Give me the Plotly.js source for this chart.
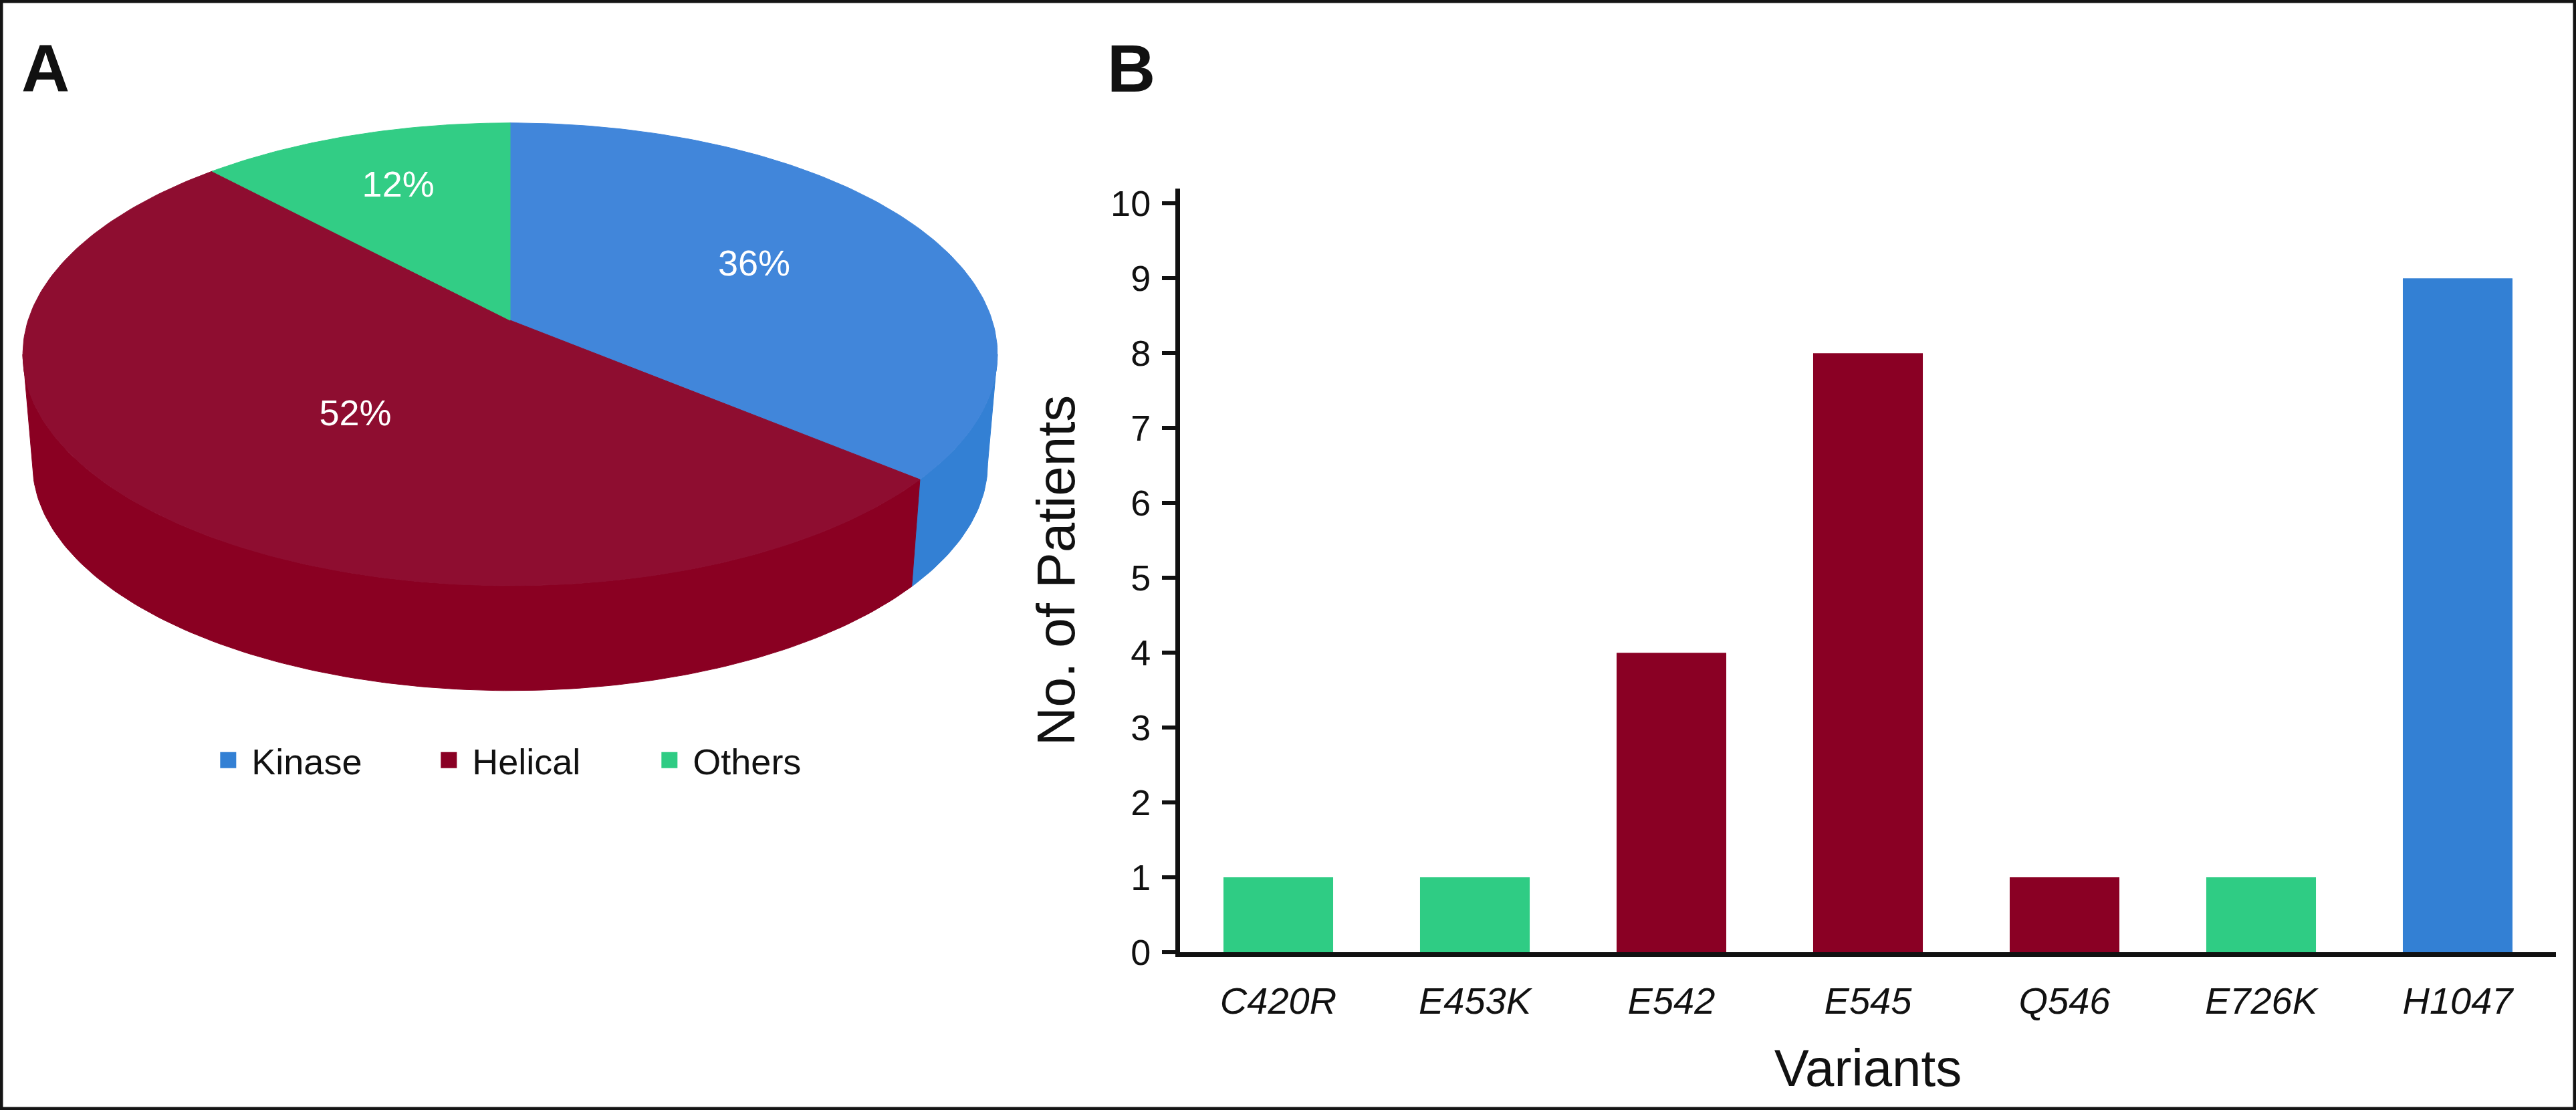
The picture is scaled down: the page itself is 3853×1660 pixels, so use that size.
<!DOCTYPE html>
<html>
<head>
<meta charset="utf-8">
<script src="https://cdn.plot.ly/plotly-3.0.1.min.js"></script>
<style>
  html, body { margin: 0; padding: 0; background: #ffffff; }
  #chart { width: 3853px; height: 1660px; }
</style>
</head>
<body>
<div id="chart"></div>
<script>
// ---------------- data ----------------
const pieLabels = ['Kinase', 'Helical', 'Others'];
const pieShares = [36, 52, 12];                 // percent
const variants = ['C420R', 'E453K', 'E542', 'E545', 'Q546', 'E726K', 'H1047'];
const patients = [1, 1, 4, 8, 1, 1, 9];
const variantDomain = ['Others', 'Others', 'Helical', 'Helical', 'Helical', 'Others', 'Kinase'];
const yTicks = [0, 1, 2, 3, 4, 5, 6, 7, 8, 9, 10];

// ---------------- styles ----------------
const FONT = 'Liberation Sans, Arial, Helvetica, sans-serif';
const topColors  = { Kinase: '#4186DA', Helical: '#8E0D30', Others: '#32CD85' };
const sideColors = { Kinase: '#3380D4', Helical: '#8A0022', Others: '#2BB875' };
const barColors  = { Kinase: '#3380D4', Helical: '#8A0024', Others: '#2FCC84' };
const labelRadius = [0.58, 0.5, 0.69];

// perspective 3D pie geometry (unit circle seen at a tilt)
const K = 0.147;        // perspective factor
const DEPTH = 0.487;    // wall height in y-units
const BOT = 0.98;       // bottom rim shrink
function proj(phiDeg, r, bottom) {
  const p = phiDeg * Math.PI / 180;
  const u = r * Math.sin(p), v = r * Math.cos(p);
  const d = 1 + K * v;
  let X = u / d, Y = v / d;
  if (bottom) { X *= BOT; Y = Y * BOT - DEPTH; }
  return [X, Y];
}
function arc(a0, a1, r, bottom) {
  const pts = [];
  const n = Math.max(2, Math.ceil(Math.abs(a1 - a0)));
  for (let i = 0; i <= n; i++) pts.push(proj(a0 + (a1 - a0) * i / n, r, bottom));
  return pts;
}

const total = pieShares.reduce((a, b) => a + b, 0);
const starts = [], ends = [];
let acc = 0;
pieShares.forEach(v => { starts.push(acc / total * 360); acc += v; ends.push(acc / total * 360); });

const phiR = Math.acos(-K) * 180 / Math.PI;  // right silhouette
const phiL = 360 - phiR;                     // left silhouette

const traces = [];
// side walls
pieLabels.forEach((lab, i) => {
  const a = Math.max(starts[i], phiR), b = Math.min(ends[i], phiL);
  if (b <= a) return;
  const topPts = arc(a, b, 1, false);
  const botPts = arc(b, a, 1, true);
  const pts = topPts.concat(botPts);
  pts.push(topPts[0]);
  traces.push({
    type: 'scatter', mode: 'lines', xaxis: 'x2', yaxis: 'y2',
    x: pts.map(p => p[0]), y: pts.map(p => p[1]),
    fill: 'toself', fillcolor: sideColors[lab],
    line: { color: sideColors[lab], width: 1 },
    showlegend: false, hoverinfo: 'skip'
  });
});
// top faces
pieLabels.forEach((lab, i) => {
  const pts = [[0, 0]].concat(arc(starts[i], ends[i], 1, false));
  pts.push([0, 0]);
  traces.push({
    type: 'scatter', mode: 'lines', xaxis: 'x2', yaxis: 'y2',
    x: pts.map(p => p[0]), y: pts.map(p => p[1]),
    fill: 'toself', fillcolor: topColors[lab],
    line: { color: topColors[lab], width: 1 },
    showlegend: false, hoverinfo: 'skip'
  });
});
// percentage labels
const lblPts = pieLabels.map((lab, i) => proj((starts[i] + ends[i]) / 2 - (i === 1 ? 6 : 0), labelRadius[i], false));
traces.push({
  type: 'scatter', mode: 'text', xaxis: 'x2', yaxis: 'y2',
  x: lblPts.map(p => p[0]), y: lblPts.map(p => p[1]),
  text: pieShares.map(v => Math.round(v / total * 100) + '%'),
  textposition: 'middle center',
  textfont: { family: FONT, size: 54, color: '#ffffff' },
  showlegend: false, hoverinfo: 'skip'
});

// bars, one trace per domain (also gives the legend)
pieLabels.forEach(lab => {
  const xs = [], ys = [];
  variants.forEach((v, i) => { if (variantDomain[i] === lab) { xs.push(v); ys.push(patients[i]); } });
  traces.push({
    type: 'bar', x: xs, y: ys, name: lab, width: 0.558,
    marker: { color: barColors[lab], line: { width: 0 } },
    xaxis: 'x', yaxis: 'y', hoverinfo: 'x+y'
  });
});

const W = 3853, H = 1660;
const layout = {
  width: W, height: H,
  margin: { l: 0, r: 0, t: 0, b: 0, pad: 0 },
  paper_bgcolor: '#ffffff', plot_bgcolor: 'rgba(0,0,0,0)',
  font: { family: FONT, color: '#111111' },
  barmode: 'overlay',
  showlegend: true,
  legend: {
    orientation: 'h', x: 0.0795, xanchor: 'left', y: 0.315, yanchor: 'middle',
    font: { family: FONT, size: 54, color: '#111111' },
    entrywidth: 255, entrywidthmode: 'pixels', itemwidth: 60,
    bgcolor: 'rgba(0,0,0,0)', traceorder: 'normal'
  },
  xaxis: {
    domain: [1765 / W, 3823 / W],
    range: [-0.5, 6.5], type: 'category',
    categoryorder: 'array', categoryarray: variants,
    showline: true, linecolor: '#111111', linewidth: 7,
    ticks: '', showgrid: false, zeroline: false,
    tickfont: { family: FONT, size: 56, color: '#111111', style: 'italic' },
    ticklabelstandoff: 18,
    title: { text: 'Variants', font: { family: FONT, size: 78, color: '#111111' }, standoff: 45 },
    fixedrange: true, automargin: false
  },
  yaxis: {
    domain: [1 - 1424 / H, 1 - 282 / H],
    range: [0, 10.2],
    tickvals: yTicks, ticktext: yTicks.map(String),
    showline: true, linecolor: '#111111', linewidth: 7,
    ticks: 'outside', ticklen: 20, tickwidth: 6, tickcolor: '#111111',
    showgrid: false, zeroline: false,
    tickfont: { family: FONT, size: 54, color: '#111111' },
    ticklabelstandoff: 6,
    title: { text: 'No. of Patients', font: { family: FONT, size: 80, color: '#111111' }, standoff: 30 },
    fixedrange: true, automargin: false
  },
  xaxis2: {
    domain: [6 / W, 1520 / W], range: [-1.05, 1.05],
    visible: false, fixedrange: true, anchor: 'y2'
  },
  yaxis2: {
    domain: [1 - 1071.4 / H, 1 - 157.4 / H], range: [-1.75, 0.95],
    visible: false, fixedrange: true, anchor: 'x2'
  },
  annotations: [
    { text: '<b>A</b>', xref: 'paper', yref: 'paper', x: 30 / W, y: 1 - 102 / H,
      xanchor: 'left', yanchor: 'middle', showarrow: false,
      font: { family: FONT, size: 100, color: '#111111' } },
    { text: '<b>B</b>', xref: 'paper', yref: 'paper', x: 1654 / W, y: 1 - 102 / H,
      xanchor: 'left', yanchor: 'middle', showarrow: false,
      font: { family: FONT, size: 100, color: '#111111' } }
  ],
  shapes: [
    { type: 'rect', xref: 'paper', yref: 'paper', x0: 0, x1: 1, y0: 0, y1: 1,
      line: { color: '#141414', width: 9 }, fillcolor: 'rgba(0,0,0,0)', layer: 'above' }
  ]
};

Plotly.newPlot('chart', traces, layout, { staticPlot: true, displayModeBar: false }).then(() => {
  document.querySelectorAll('.legend .legendpoints path').forEach(p => {
    p.setAttribute('d', 'M12,12H-12V-12H12Z');
  });
});
</script>
</body>
</html>
